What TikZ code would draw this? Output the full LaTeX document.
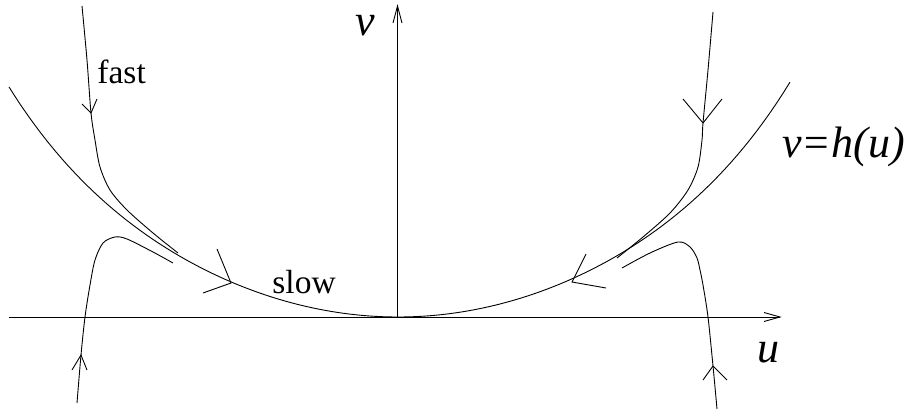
\documentclass[tikz,border=0pt]{standalone}
\usepackage{fontspec}
\setmainfont{Liberation Serif}
\begin{document}
\begin{tikzpicture}[x=1pt,y=-1pt,line width=0.9pt,
  curve/.style={smooth,tension=0.5},
  wordlabel/.style={inner sep=0pt,anchor=base west,font=\fontsize{33.5}{40}\selectfont},
  mathlabel/.style={inner sep=0pt,anchor=base west,font=\fontsize{44}{52}\selectfont\itshape}]
\useasboundingbox (0,0) rectangle (912,415);
% axes
\coordinate (xs) at (9,317);
\coordinate (xe) at (780,317);
\coordinate (ys) at (397.5,317);
\coordinate (ye) at (397.5,6);
\draw (xs) -- (xe);
\draw (764,312.5) -- (xe) -- (764,321.5);
\draw (ys) -- (ye);
\draw (393,23) -- (ye) -- (402,23);
% slow manifold v = h(u)
\draw plot[domain=-3.89:3.92,samples=120] ({398+100*\x},{317-12.5*\x*\x-0.0118*(\x*\x)*(\x*\x)*(\x*\x)});
% fast trajectories
\draw plot[curve] coordinates {(82,6) (87,60) (91,113) (95,140) (100,167) (110,190) (127,210) (153,233) (178,253)};
\draw (82,104) -- (91,113) -- (97,99);
\draw plot[curve] coordinates {(713,12) (708,70) (703,123) (702,140) (698,167) (688,190) (670,213) (643,237) (617,258)};
\draw (683,99) -- (703,123) -- (722,99);
% slow arrows
\draw (217,249) -- (231,283) -- (203,293);
\draw (586,254) -- (572,282) -- (606,288);
% lower trajectories
\draw plot[curve] coordinates {(77,403) (81,355) (85,317) (90,285) (95,260) (103,243) (115,237) (127,239) (153,252) (173,263)};
\draw (72,370) -- (81,355) -- (87,370);
\draw plot[curve] coordinates {(717,409) (713,366) (708,317) (703,285) (700,270) (697,258) (690,247) (678,242) (650,253) (622,268)};
\draw (703,380) -- (713,366) -- (727,380);
% labels
\node[wordlabel] (fast) at (97,83) {fast};
\node[wordlabel] (slow) at (272,293) {slow};
\node[mathlabel] (vlab) at (355,35) {v};
\node[mathlabel] (ulab) at (757,362) {u};
\node[mathlabel] (hlab) at (782,157) {v=h(u)};
\end{tikzpicture}
\end{document}
